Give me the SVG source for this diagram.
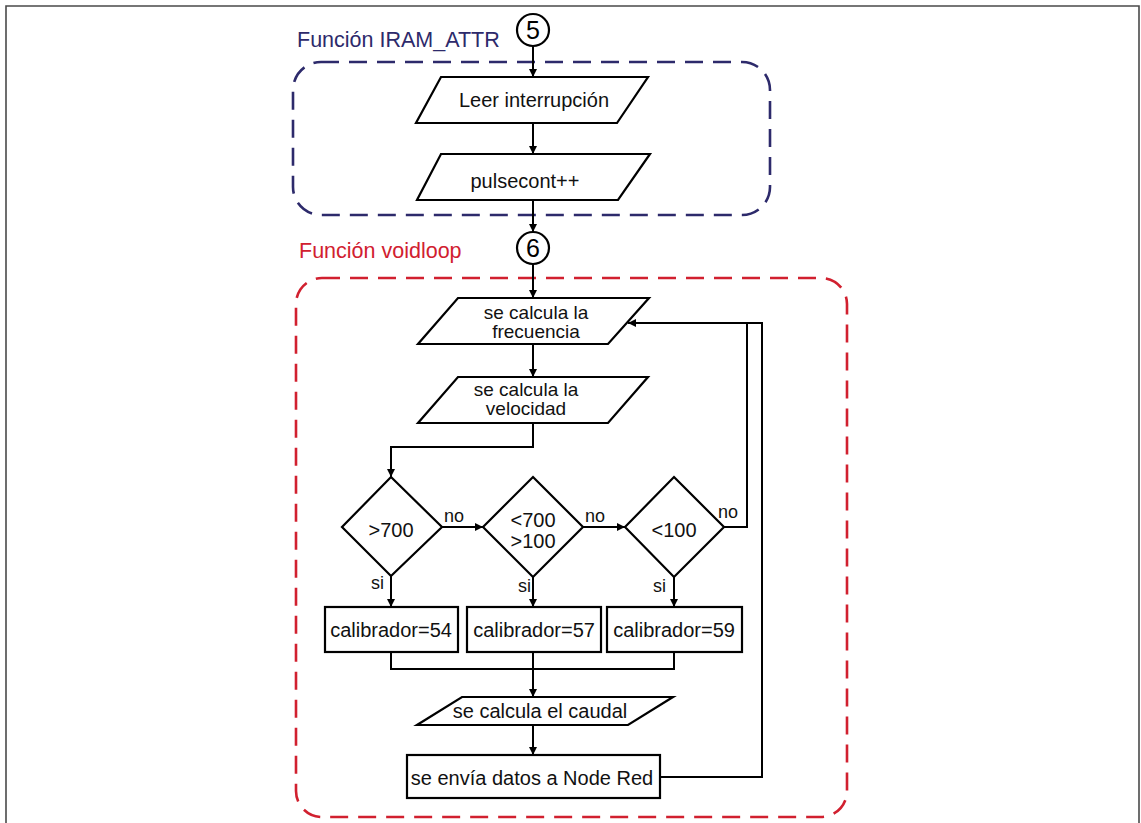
<svg xmlns="http://www.w3.org/2000/svg" width="1141" height="823" viewBox="0 0 1141 823">
  <style>
    .shape { fill: #ffffff; stroke: #000000; stroke-width: 2.2; stroke-linejoin: miter; }
    .conn { fill: none; stroke: #000000; stroke-width: 2; }
    .txt { font-family: "Liberation Sans", Arial, sans-serif; font-size: 20px; fill: #111111; text-anchor: middle; }
    .txt2 { font-family: "Liberation Sans", Arial, sans-serif; font-size: 19px; fill: #111111; text-anchor: middle; }
    .lbl { font-family: "Liberation Sans", Arial, sans-serif; font-size: 18px; fill: #111111; }
    .num { font-family: "Liberation Sans", Arial, sans-serif; font-size: 25px; fill: #000000; text-anchor: middle; }
    .title { font-family: "Liberation Sans", Arial, sans-serif; font-size: 21.5px; }
    .zone { fill: none; stroke-width: 2.6; stroke-dasharray: 18 10; }
  </style>
  <defs>
    <marker id="arrow" markerUnits="userSpaceOnUse" markerWidth="9" markerHeight="8" refX="8" refY="4" orient="auto">
      <path d="M0,0 L8,4 L0,8 Z" fill="#000000"/>
    </marker>
  </defs>

  <rect x="0" y="0" width="1141" height="823" fill="#ffffff"/>
  <!-- page frame -->
  <path d="M6,830 L6,6 L1139,6 L1139,830" fill="none" stroke="#4a4a4a" stroke-width="1.6"/>

  <!-- function zones -->
  <g id="zone-iram">
    <rect class="zone" x="293" y="62" width="477" height="153" rx="28" ry="28" stroke="#2d2a6b"/>
    <text class="title" x="297" y="47" fill="#2d2a6b">Función IRAM_ATTR</text>
  </g>
  <g id="zone-loop">
    <rect class="zone" x="296" y="278" width="551" height="539" rx="26" ry="26" stroke="#d1202f"/>
    <text class="title" x="299" y="258" fill="#d1202f">Función voidloop</text>
  </g>

  <!-- connectors -->
  <g id="connectors">
    <path class="conn" d="M533,46 L533,77" marker-end="url(#arrow)"/>
    <path class="conn" d="M533,123 L533,154" marker-end="url(#arrow)"/>
    <path class="conn" d="M533,200 L533,232" marker-end="url(#arrow)"/>
    <path class="conn" d="M533,264 L533,298" marker-end="url(#arrow)"/>
    <path class="conn" d="M533,344 L533,377" marker-end="url(#arrow)"/>
    <path class="conn" d="M533,423 L533,447 L391,447 L391,477" marker-end="url(#arrow)"/>
    <path class="conn" d="M442,527 L483,527" marker-end="url(#arrow)"/>
    <path class="conn" d="M583,527 L625,527" marker-end="url(#arrow)"/>
    <path class="conn" d="M724,527 L747,527 L747,323"/>
    <path class="conn" d="M660,777 L762,777 L762,323 L628,323" marker-end="url(#arrow)"/>
    <path class="conn" d="M391,576 L391,607" marker-end="url(#arrow)"/>
    <path class="conn" d="M533,577 L533,607" marker-end="url(#arrow)"/>
    <path class="conn" d="M674,577 L674,607" marker-end="url(#arrow)"/>
    <path class="conn" d="M391,652 L391,669 L674,669 L674,652"/>
    <path class="conn" d="M533,652 L533,697" marker-end="url(#arrow)"/>
    <path class="conn" d="M533,725 L533,755" marker-end="url(#arrow)"/>
    <text class="lbl" x="444" y="522">no</text>
    <text class="lbl" x="585" y="522">no</text>
    <text class="lbl" x="718" y="518">no</text>
    <text class="lbl" x="371" y="589">si</text>
    <text class="lbl" x="518" y="592">si</text>
    <text class="lbl" x="653" y="592">si</text>
  </g>

  <!-- connector circles -->
  <g id="ref-5">
    <circle class="shape" cx="533" cy="30" r="16"/>
    <text class="num" x="533" y="39">5</text>
  </g>
  <g id="ref-6">
    <circle class="shape" cx="533" cy="248" r="16"/>
    <text class="num" x="533" y="257">6</text>
  </g>

  <!-- interrupt routine -->
  <g id="leer-interrupcion">
    <polygon class="shape" points="441,77 648,77 617,123 416,123"/>
    <text class="txt" x="534" y="107" font-size="20.5">Leer interrupción</text>
  </g>
  <g id="pulsecont">
    <polygon class="shape" points="441,154 650,154 618,200 417,200"/>
    <text class="txt" x="525" y="188">pulsecont++</text>
  </g>

  <!-- main loop -->
  <g id="frecuencia">
    <polygon class="shape" points="458,298 649,298 608,344 418,344"/>
    <text class="txt2" x="536" y="319">se calcula la</text>
    <text class="txt2" x="536" y="338">frecuencia</text>
  </g>
  <g id="velocidad">
    <polygon class="shape" points="458,377 648,377 608,423 418,423"/>
    <text class="txt2" x="526" y="396">se calcula la</text>
    <text class="txt2" x="526" y="415">velocidad</text>
  </g>
  <g id="cond-700">
    <polygon class="shape" points="391,477 442,527 391,576 342,527"/>
    <text class="txt" x="391" y="537">&gt;700</text>
  </g>
  <g id="cond-700-100">
    <polygon class="shape" points="533,477 583,527 533,577 483,527"/>
    <text class="txt" x="533" y="527">&lt;700</text>
    <text class="txt" x="533" y="548">&gt;100</text>
  </g>
  <g id="cond-100">
    <polygon class="shape" points="674,477 724,527 674,577 625,527"/>
    <text class="txt" x="674" y="537">&lt;100</text>
  </g>
  <g id="calib-54">
    <rect class="shape" x="325" y="607" width="133" height="45"/>
    <text class="txt" x="391" y="637">calibrador=54</text>
  </g>
  <g id="calib-57">
    <rect class="shape" x="467" y="607" width="134" height="45"/>
    <text class="txt" x="534" y="637">calibrador=57</text>
  </g>
  <g id="calib-59">
    <rect class="shape" x="607" y="607" width="135" height="45"/>
    <text class="txt" x="674" y="637">calibrador=59</text>
  </g>
  <g id="caudal">
    <polygon class="shape" points="462,697 673,697 628,725 417,725"/>
    <text class="txt" x="540" y="718">se calcula el caudal</text>
  </g>
  <g id="node-red">
    <rect class="shape" x="407" y="755" width="253" height="43"/>
    <text class="txt" x="532" y="785">se envía datos a Node Red</text>
  </g>
</svg>
